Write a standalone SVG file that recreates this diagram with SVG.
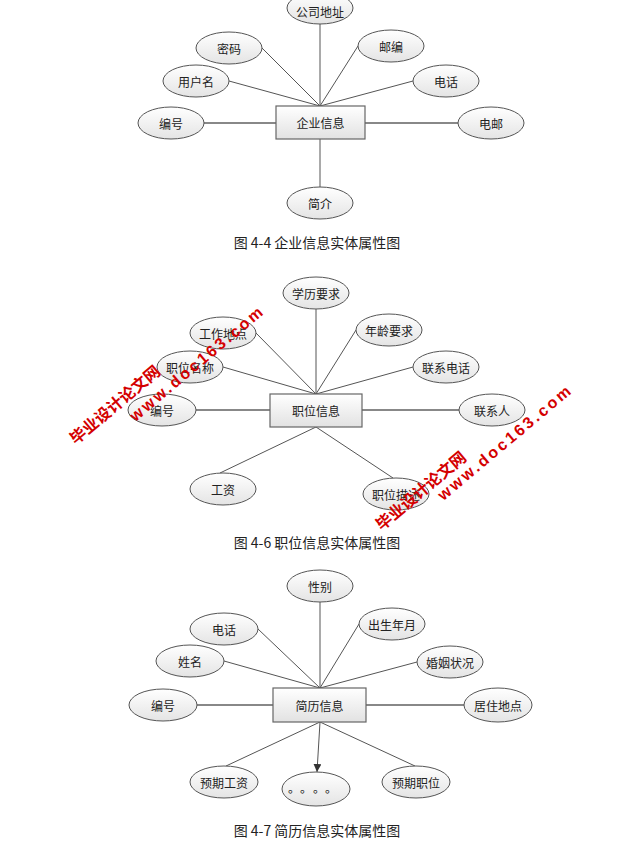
<svg xmlns="http://www.w3.org/2000/svg" width="644" height="841" viewBox="0 0 644 841">
<style>
.ell{fill:url(#eg);stroke:#555;stroke-width:1}
.ent{fill:url(#rg);stroke:#666;stroke-width:1.2}
.ln{stroke:#555;stroke-width:1;fill:none}
.hl{stroke:#888;stroke-width:1.8;fill:none}
.t{font-family:"Noto Sans CJK SC","Liberation Sans",sans-serif;font-size:12px;fill:#222;text-anchor:middle;dominant-baseline:central}
.cap{font-family:"Noto Sans CJK SC","Liberation Sans",sans-serif;font-size:14px;fill:#222;text-anchor:middle}
.wm{font-family:"Liberation Sans","Noto Sans CJK SC",sans-serif;font-weight:bold;font-size:16px;fill:#d40000;text-anchor:middle;dominant-baseline:central}
</style>
<defs>
<linearGradient id="eg" x1="0" y1="0" x2="0" y2="1">
<stop offset="0" stop-color="#ffffff"/><stop offset="1" stop-color="#e4e4e4"/>
</linearGradient>
<linearGradient id="rg" x1="0" y1="0" x2="0" y2="1">
<stop offset="0" stop-color="#ffffff"/><stop offset="1" stop-color="#e2e2e2"/>
</linearGradient>
<marker id="arr" markerWidth="8" markerHeight="8" refX="8" refY="4" orient="auto" markerUnits="userSpaceOnUse">
<path d="M0,0 L8,4 L0,8 z" fill="#333"/>
</marker>
</defs>
<rect width="644" height="841" fill="#ffffff"/>

<g id="connectors">
<!-- diagram 4-4 -->
<line class="ln" x1="320" y1="106" x2="320" y2="24"/>
<line class="ln" x1="320" y1="106" x2="262" y2="48"/>
<line class="ln" x1="320" y1="106" x2="358" y2="46"/>
<line class="ln" x1="320" y1="106" x2="229" y2="81"/>
<line class="ln" x1="320" y1="106" x2="413" y2="81"/>
<line class="hl" x1="204" y1="123" x2="276" y2="123"/>
<line class="hl" x1="365" y1="123" x2="458" y2="123"/>
<line class="ln" x1="320" y1="139" x2="320" y2="187"/>
<!-- diagram 4-6 -->
<line class="ln" x1="316" y1="394" x2="316" y2="309"/>
<line class="ln" x1="316" y1="394" x2="256" y2="333"/>
<line class="ln" x1="316" y1="394" x2="356" y2="330"/>
<line class="ln" x1="316" y1="394" x2="223" y2="367"/>
<line class="ln" x1="316" y1="394" x2="413" y2="367"/>
<line class="hl" x1="196" y1="410" x2="270" y2="410"/>
<line class="hl" x1="362" y1="410" x2="459" y2="410"/>
<line class="ln" x1="316" y1="427" x2="220" y2="473"/>
<line class="ln" x1="316" y1="427" x2="393" y2="478"/>
<!-- diagram 4-7 -->
<line class="ln" x1="320" y1="688" x2="320" y2="602"/>
<line class="ln" x1="320" y1="688" x2="258" y2="629"/>
<line class="ln" x1="320" y1="688" x2="359" y2="624"/>
<line class="ln" x1="320" y1="688" x2="224" y2="661"/>
<line class="ln" x1="320" y1="688" x2="417" y2="662"/>
<line class="hl" x1="197" y1="705" x2="273" y2="705"/>
<line class="hl" x1="366" y1="705" x2="464" y2="705"/>
<line class="ln" x1="320" y1="722" x2="226" y2="766"/>
<line class="ln" x1="320" y1="722" x2="415" y2="766"/>
<line class="ln" x1="320" y1="722" x2="317" y2="772" marker-end="url(#arr)"/>
</g>

<!-- diagram 4-4 nodes -->
<g id="qy-entity"><rect class="ent" x="276" y="106" width="89" height="33"/><text class="t" x="320.5" y="122.5">企业信息</text></g>
<g id="qy-gsdz"><ellipse class="ell" cx="320" cy="8" rx="33" ry="16"/><text class="t" x="320" y="11">公司地址</text></g>
<g id="qy-mm"><ellipse class="ell" cx="229" cy="48" rx="33" ry="16"/><text class="t" x="229" y="48">密码</text></g>
<g id="qy-yb"><ellipse class="ell" cx="391" cy="46" rx="33" ry="16"/><text class="t" x="391" y="46">邮编</text></g>
<g id="qy-yhm"><ellipse class="ell" cx="196" cy="81" rx="33" ry="16"/><text class="t" x="196" y="81">用户名</text></g>
<g id="qy-dh"><ellipse class="ell" cx="446" cy="81" rx="33" ry="16"/><text class="t" x="446" y="81">电话</text></g>
<g id="qy-bh"><ellipse class="ell" cx="171" cy="123" rx="33" ry="16"/><text class="t" x="171" y="123">编号</text></g>
<g id="qy-dy"><ellipse class="ell" cx="491" cy="123" rx="33" ry="16"/><text class="t" x="491" y="123">电邮</text></g>
<g id="qy-jj"><ellipse class="ell" cx="320" cy="203" rx="33" ry="16"/><text class="t" x="320" y="203">简介</text></g>
<text class="cap" x="317" y="248">图 4-4 企业信息实体属性图</text>

<!-- diagram 4-6 nodes -->
<g id="zw-entity"><rect class="ent" x="270" y="394" width="92" height="33"/><text class="t" x="316" y="410.5">职位信息</text></g>
<g id="zw-xlyq"><ellipse class="ell" cx="316" cy="293" rx="33" ry="16"/><text class="t" x="316" y="293">学历要求</text></g>
<g id="zw-gzdd"><ellipse class="ell" cx="223" cy="333" rx="33" ry="16"/><text class="t" x="223" y="333">工作地点</text></g>
<g id="zw-nlyq"><ellipse class="ell" cx="389" cy="330" rx="33" ry="16"/><text class="t" x="389" y="330">年龄要求</text></g>
<g id="zw-zwmc"><ellipse class="ell" cx="190" cy="367" rx="33" ry="16"/><text class="t" x="190" y="367">职位名称</text></g>
<g id="zw-lxdh"><ellipse class="ell" cx="446" cy="367" rx="33" ry="16"/><text class="t" x="446" y="367">联系电话</text></g>
<g id="zw-bh"><ellipse class="ell" cx="162" cy="410" rx="34" ry="16"/><text class="t" x="162" y="410">编号</text></g>
<g id="zw-lxr"><ellipse class="ell" cx="492" cy="410" rx="33" ry="16"/><text class="t" x="492" y="410">联系人</text></g>
<g id="zw-gz"><ellipse class="ell" cx="223" cy="489" rx="33" ry="16"/><text class="t" x="223" y="489">工资</text></g>
<g id="zw-zwms"><ellipse class="ell" cx="396" cy="494" rx="33" ry="16"/><text class="t" x="396" y="494">职位描述</text></g>
<text class="cap" x="317" y="548">图 4-6 职位信息实体属性图</text>

<!-- diagram 4-7 nodes -->
<g id="jl-entity"><rect class="ent" x="273" y="688" width="93" height="34"/><text class="t" x="319.5" y="705">简历信息</text></g>
<g id="jl-xb"><ellipse class="ell" cx="320" cy="586" rx="33" ry="16"/><text class="t" x="320" y="586">性别</text></g>
<g id="jl-dh"><ellipse class="ell" cx="224" cy="629" rx="34" ry="16"/><text class="t" x="224" y="629">电话</text></g>
<g id="jl-csny"><ellipse class="ell" cx="392" cy="624" rx="33" ry="16"/><text class="t" x="392" y="624">出生年月</text></g>
<g id="jl-xm"><ellipse class="ell" cx="190" cy="661" rx="34" ry="16"/><text class="t" x="190" y="661">姓名</text></g>
<g id="jl-hyzk"><ellipse class="ell" cx="450" cy="662" rx="33" ry="16"/><text class="t" x="450" y="662">婚姻状况</text></g>
<g id="jl-bh"><ellipse class="ell" cx="163" cy="705" rx="34" ry="16"/><text class="t" x="163" y="705">编号</text></g>
<g id="jl-jzdd"><ellipse class="ell" cx="498" cy="705" rx="34" ry="17"/><text class="t" x="498" y="705">居住地点</text></g>
<g id="jl-yqgz"><ellipse class="ell" cx="224" cy="782" rx="34" ry="16"/><text class="t" x="224" y="782">预期工资</text></g>
<g id="jl-more"><ellipse class="ell" cx="316" cy="789" rx="34" ry="17"/><text class="t" x="294 306 319 331" y="787">。。。。</text></g>
<g id="jl-yqzw"><ellipse class="ell" cx="416" cy="782" rx="34" ry="16"/><text class="t" x="416" y="782">预期职位</text></g>
<text class="cap" x="317" y="836">图 4-7 简历信息实体属性图</text>

<!-- watermarks -->
<g id="watermark">
<text class="wm" transform="translate(115,405) rotate(-40)">毕业设计论文网</text>
<text class="wm" transform="translate(196,364) rotate(-40)" textLength="168" lengthAdjust="spacing">www.doc163.com</text>
<text class="wm" transform="translate(421,491) rotate(-40)">毕业设计论文网</text>
<text class="wm" transform="translate(504,443) rotate(-40)" textLength="168" lengthAdjust="spacing">www.doc163.com</text>
</g>
</svg>
